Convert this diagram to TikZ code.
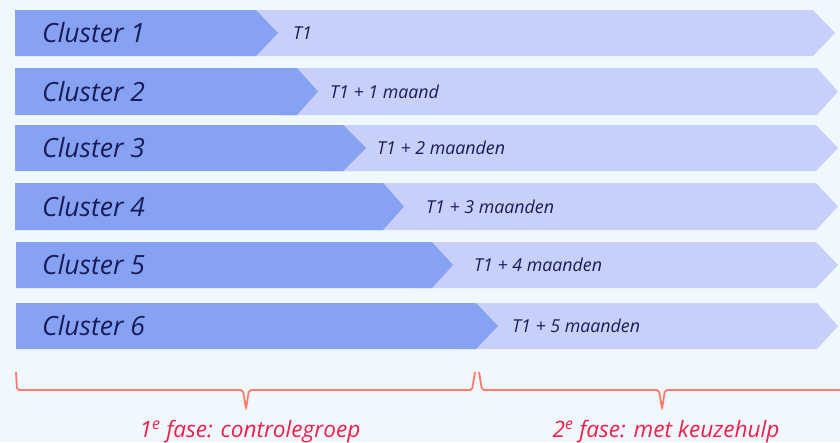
\documentclass[tikz,border=0pt]{standalone}
\usepackage{fontspec}
\setmainfont{Open Sans}
\definecolor{bgc}{RGB}{240,248,254}
\definecolor{darkarrow}{RGB}{136,162,243}
\definecolor{lightarrow}{RGB}{198,208,250}
\definecolor{navytext}{RGB}{24,28,88}
\definecolor{bracketc}{RGB}{255,123,107}
\definecolor{redtext}{RGB}{240,32,74}
\begin{document}
\begin{tikzpicture}[x=1pt,y=-1pt,
  clusterlabel/.style={anchor=west,inner sep=0pt,text=navytext,font=\fontsize{26.5}{28}\selectfont\itshape},
  timelabel/.style={anchor=west,inner sep=0pt,text=navytext,font=\fontsize{17.8}{19}\selectfont\itshape},
  phaselabel/.style={anchor=base,inner sep=0pt,text=redtext,font=\fontsize{22.6}{24}\selectfont\itshape},
  bracketline/.style={draw=bracketc,line width=1.8pt,rounded corners=2pt}]
\fill[bgc] (0,0) rectangle (840,442);
\useasboundingbox (0,0) rectangle (840,442);
% rows: top, bottom, left, shoulder, tip, light shoulder, light tip, label x, index, label text
\foreach \t/\b/\l/\s/\p/\ls/\lp/\tx/\i/\txt in {
  10/56/15/256/278/813/835/293/1/{T1},
  68/115/15/297/318/817/838/330/2/{T1 + 1 maand},
  125/171/15/343/366/816/838/377/3/{T1 + 2 maanden},
  183/230/15/383/404/816/838/426/4/{T1 + 3 maanden},
  242/288/16/432/453/816/838/474/5/{T1 + 4 maanden},
  303/349/16/476/498/817/838/512/6/{T1 + 5 maanden}}{
  \fill[lightarrow] (\s-20,\t) -- (\ls,\t) -- (\lp,{(\t+\b)/2}) -- (\ls,\b) -- (\s-20,\b) -- cycle;
  \fill[darkarrow] (\l,\t) -- (\s,\t) -- (\p,{(\t+\b)/2}) -- (\s,\b) -- (\l,\b) -- cycle;
  \node[clusterlabel] (c\i) at (42,{(\t+\b)/2}) {Cluster \i};
  \node[timelabel] (t\i) at (\tx,{(\t+\b)/2}) {\txt};
}
% brackets
\draw[bracketline] (16,372) -- (17,390) -- (243,390) -- (246,409) -- (249,390) -- (472,390) -- (475,372);
\draw[bracketline] (479,372) -- (482,390) -- (659,390) -- (662,409) -- (665,390) -- (845,390);
\node[phaselabel] (p1) at (250,437) {1\textsuperscript{e} fase: controlegroep};
\node[phaselabel] (p2) at (666,437) {2\textsuperscript{e} fase: met keuzehulp};
\end{tikzpicture}
\end{document}
